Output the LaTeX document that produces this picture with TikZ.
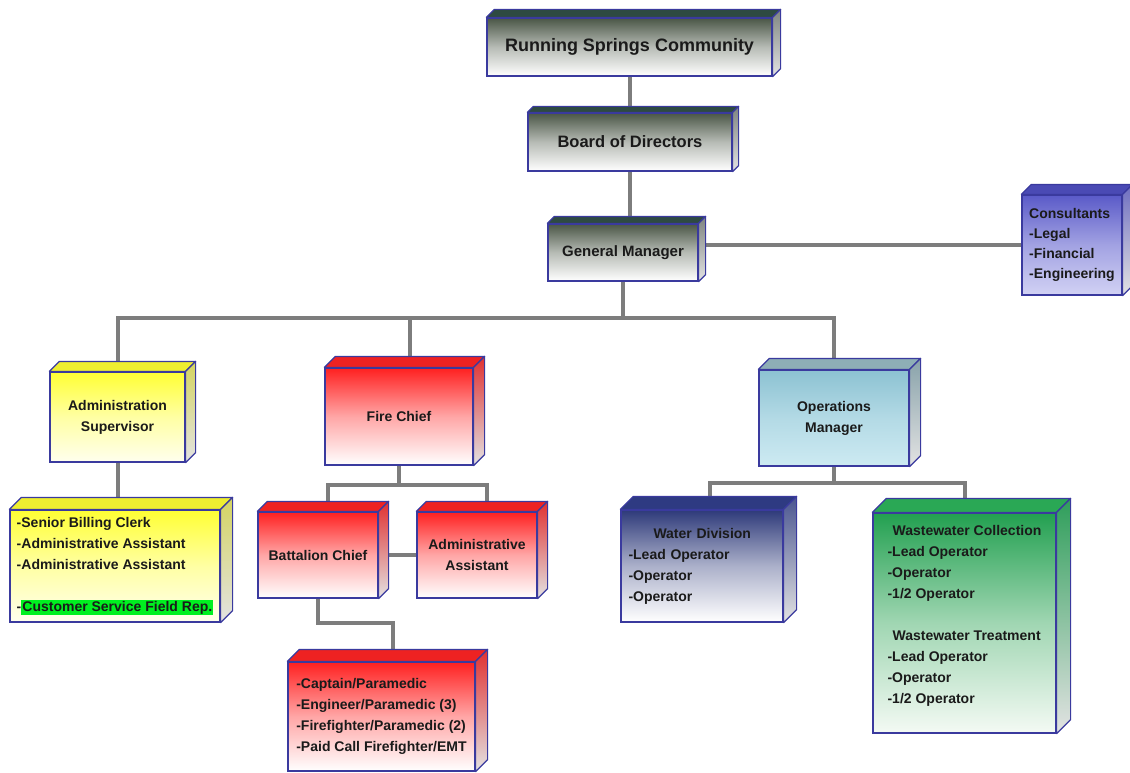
\documentclass[tikz,border=0pt]{standalone}
\usepackage{fontspec}
\setmainfont{Liberation Sans}
\usetikzlibrary{calc}

\definecolor{edge}{HTML}{3A3A9E}
\definecolor{linkgray}{HTML}{7D7D7D}
\definecolor{inktext}{HTML}{1A1A1A}
\definecolor{slatefront}{HTML}{4A5646}
\definecolor{slatetop}{HTML}{2E4A42}
\definecolor{slateside}{HTML}{7E8480}
\definecolor{consfront}{HTML}{5A5AC8}
\definecolor{consbottom}{HTML}{D2D2F4}
\definecolor{constop}{HTML}{4A4AB4}
\definecolor{consside}{HTML}{6E6EC0}
\definecolor{yelfront}{HTML}{FFFF33}
\definecolor{yelbottom}{HTML}{FFFFEE}
\definecolor{yeltop}{HTML}{EEEE30}
\definecolor{yelside}{HTML}{D4D460}
\definecolor{redfront}{HTML}{FF2020}
\definecolor{redtop}{HTML}{EE2222}
\definecolor{redside}{HTML}{E03030}
\definecolor{opsfront}{HTML}{8CC2D2}
\definecolor{opsbottom}{HTML}{CDEAF2}
\definecolor{opstop}{HTML}{8EAEB6}
\definecolor{opsside}{HTML}{88A2AA}
\definecolor{waterfront}{HTML}{2E3A7A}
\definecolor{watertop}{HTML}{2E3A82}
\definecolor{waterside}{HTML}{4A5590}
\definecolor{greenfront}{HTML}{22A050}
\definecolor{greenbottom}{HTML}{F4FAF4}
\definecolor{greentop}{HTML}{2AA855}
\definecolor{greenside}{HTML}{2E9E5A}
\definecolor{hlgreen}{HTML}{00F020}

\pgfdeclarelayer{back}
\pgfsetlayers{back,main}

\begin{document}
\begin{tikzpicture}[x=1pt, y=-1pt,
  box/.style={draw=edge, line width=1.2pt, inner sep=4pt, align=center, text=inktext,
    font=\bfseries\fontsize{14}{21}\selectfont},
  fade/.style 2 args={top color=#1, bottom color=#2, middle color=#1!40!#2},
  link/.style={draw=linkgray, line width=4pt}]
  \useasboundingbox (0,0) rectangle (1130,773);

  % top of the chart
  \node[box, fade={slatefront}{white}, minimum width=285pt, minimum height=58pt,
    font=\bfseries\fontsize{18}{22}\selectfont] (rsc) at (629.5,47) {Running Springs Community};
  \node[box, fade={slatefront}{white}, minimum width=204pt, minimum height=58pt,
    font=\bfseries\fontsize{16.5}{20}\selectfont] (bod) at (630,142) {Board of Directors};
  \node[box, fade={slatefront}{white}, minimum width=150pt, minimum height=57pt,
    font=\bfseries\fontsize{15}{20}\selectfont] (gm) at (623,252.5) {General Manager};
  \node[box, fade={consfront}{consbottom}, minimum width=100pt, minimum height=100pt,
    align=left, font=\bfseries\fontsize{14}{20}\selectfont] (cons) at (1072,245)
    {Consultants\\-Legal\\-Financial\\-Engineering};

  % administration
  \node[box, fade={yelfront}{yelbottom}, minimum width=135pt, minimum height=90pt] (adm)
    at (117.5,417) {Administration\\Supervisor};
  \node[box, fade={yelfront}{yelbottom}, minimum width=210pt, minimum height=112pt,
    align=left] (staff) at (115,566)
    {-Senior Billing Clerk\\-Administrative Assistant\\-Administrative Assistant\\[21pt]%
     -{\setlength{\fboxsep}{1pt}\colorbox{hlgreen}{Customer Service Field Rep.}}};

  % fire
  \node[box, fade={redfront}{white}, minimum width=148pt, minimum height=97pt] (fire)
    at (399,416.5) {Fire Chief};
  \node[box, fade={redfront}{white}, minimum width=120pt, minimum height=86pt] (bc)
    at (318,555) {Battalion Chief};
  \node[box, fade={redfront}{white}, minimum width=120pt, minimum height=86pt] (aa)
    at (477,555) {Administrative\\Assistant};
  \node[box, fade={redfront}{white}, minimum width=187pt, minimum height=109pt,
    align=left] (crew) at (381.5,716.5)
    {-Captain/Paramedic\\-Engineer/Paramedic (3)\\-Firefighter/Paramedic (2)\\-Paid Call Firefighter/EMT};

  % operations
  \node[box, fade={opsfront}{opsbottom}, minimum width=150pt, minimum height=96pt] (ops)
    at (834,418) {Operations\\Manager};
  \node[box, fade={waterfront}{white}, minimum width=162pt, minimum height=112pt,
    text width=147pt, align=left] (water) at (702,566)
    {\hspace*{25pt}Water Division\\-Lead Operator\\-Operator\\-Operator};
  \node[box, fade={greenfront}{greenbottom}, minimum width=183pt, minimum height=220pt,
    align=left] (waste) at (964.5,623)
    {\hspace*{5pt}Wastewater Collection\\-Lead Operator\\-Operator\\-1/2 Operator\\[21pt]%
     \hspace*{5pt}Wastewater Treatment\\-Lead Operator\\-Operator\\-1/2 Operator\\[-3pt]\mbox{}};

  % top and side faces of the boxes
  \foreach \n/\t/\s/\d in {rsc/slatetop/slateside/8, bod/slatetop/slateside/6,
      gm/slatetop/slateside/7, cons/constop/consside/10, adm/yeltop/yelside/10,
      staff/yeltop/yelside/12, fire/redtop/redside/11, bc/redtop/redside/10,
      aa/redtop/redside/10, crew/redtop/redside/12, ops/opstop/opsside/11,
      water/watertop/waterside/13, waste/greentop/greenside/14}{
    \draw[draw=edge, line width=1.2pt, line join=round, fill=\t]
      (\n.north west) -- ++(\d,-\d) -- ($(\n.north east)+(\d,-\d)$) -- (\n.north east) -- cycle;
    \draw[draw=edge, line width=1.2pt, line join=round, top color=\s, bottom color=gray!22]
      (\n.north east) -- ++(\d,-\d) -- ($(\n.south east)+(\d,-\d)$) -- (\n.south east) -- cycle;
  }

  % connectors
  \coordinate (bus) at (623,318);
  \coordinate (firebus) at (399,485);
  \coordinate (opsbus) at (834,483);
  \coordinate (kink) at (393,623);
  \begin{pgfonlayer}{back}
    \draw[link] (rsc.south) -- (rsc.south |- bod.north);
    \draw[link] (bod.south) -- (bod.south |- gm.north);
    \draw[link] (gm.east |- cons.west) -- (cons.west);
    \draw[link] (gm.south) -- (bus);
    \draw[link] (adm.north) |- (bus) -| (ops.north);
    \draw[link] ([xshift=11pt]fire.north) -- ([xshift=11pt]fire.north |- bus);
    \draw[link] (adm.south) -- (adm.south |- staff.north);
    \draw[link] (fire.south) -- (firebus);
    \draw[link] ([xshift=10pt]bc.north) |- (firebus) -| ([xshift=10pt]aa.north);
    \draw[link] (bc.east) -- (aa.west);
    \draw[link] (bc.south) |- (kink) -- (kink |- crew.north);
    \draw[link] (ops.south) -- (opsbus);
    \draw[link] ([xshift=8pt]water.north) |- (opsbus) -| (waste.north);
  \end{pgfonlayer}
\end{tikzpicture}
\end{document}
